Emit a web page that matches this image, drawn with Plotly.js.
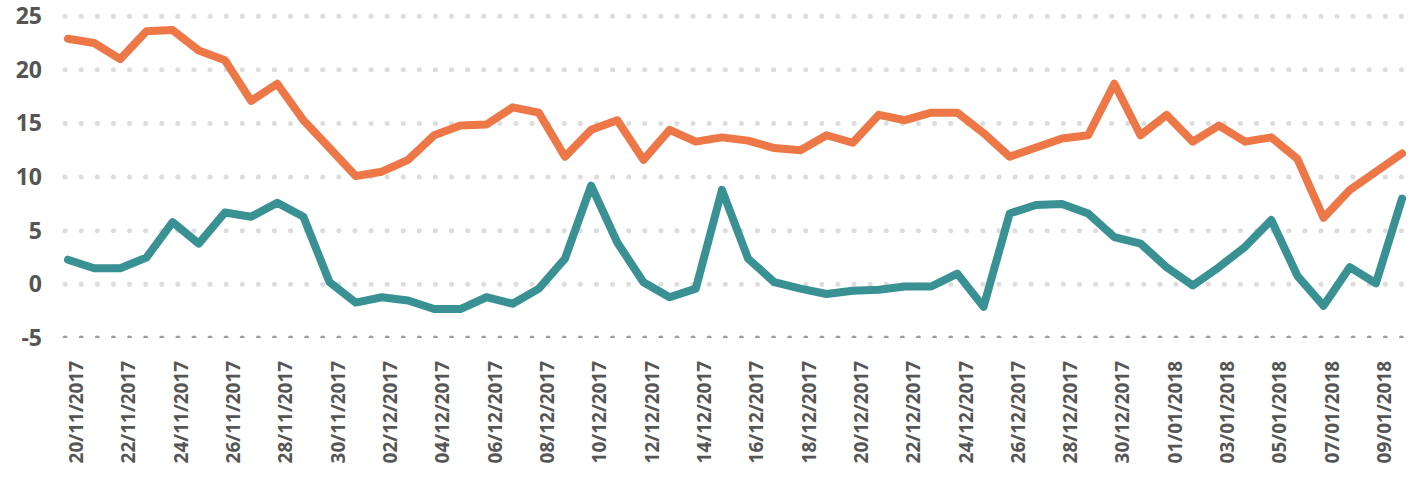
<!DOCTYPE html>
<html>
<head>
<meta charset="utf-8">
<script src="https://cdn.plot.ly/plotly-3.0.1.min.js"></script>
<style>
  html, body { margin: 0; padding: 0; background: #fff; }
  #chart { width: 1414px; height: 488px; }
  .gridlayer path, .shapelayer path { stroke-linecap: round !important; stroke-dashoffset: 14px !important; shape-rendering: auto !important; }
  .scatterlayer path.js-line { stroke-linecap: round !important; stroke-linejoin: round !important; }
</style>
</head>
<body>
<div id="chart"></div>
<script>
// Dates (daily, 20/11/2017 .. 10/01/2018)
const dates = [
  "20/11/2017","21/11/2017","22/11/2017","23/11/2017","24/11/2017","25/11/2017","26/11/2017","27/11/2017","28/11/2017","29/11/2017",
  "30/11/2017","01/12/2017","02/12/2017","03/12/2017","04/12/2017","05/12/2017","06/12/2017","07/12/2017","08/12/2017","09/12/2017",
  "10/12/2017","11/12/2017","12/12/2017","13/12/2017","14/12/2017","15/12/2017","16/12/2017","17/12/2017","18/12/2017","19/12/2017",
  "20/12/2017","21/12/2017","22/12/2017","23/12/2017","24/12/2017","25/12/2017","26/12/2017","27/12/2017","28/12/2017","29/12/2017",
  "30/12/2017","31/12/2017","01/01/2018","02/01/2018","03/01/2018","04/01/2018","05/01/2018","06/01/2018","07/01/2018","08/01/2018",
  "09/01/2018","10/01/2018"
];
const orangeValues = [
  22.9, 22.5, 21.0, 23.6, 23.7, 21.8, 20.9, 17.1, 18.7, 15.3,
  12.7, 10.1, 10.5, 11.6, 13.9, 14.8, 14.9, 16.5, 16.0, 11.9,
  14.4, 15.3, 11.6, 14.4, 13.3, 13.7, 13.4, 12.7, 12.5, 13.9,
  13.2, 15.8, 15.3, 16.0, 16.0, 14.1, 11.9, 12.7, 13.6, 13.9,
  18.7, 13.9, 15.8, 13.3, 14.8, 13.3, 13.7, 11.7, 6.2, 8.8,
  10.5, 12.2
];
const tealValues = [
  2.3, 1.5, 1.5, 2.5, 5.8, 3.8, 6.7, 6.3, 7.6, 6.3,
  0.2, -1.7, -1.2, -1.5, -2.3, -2.3, -1.2, -1.8, -0.4, 2.4,
  9.2, 3.9, 0.2, -1.2, -0.4, 8.8, 2.4, 0.2, -0.4, -0.9,
  -0.6, -0.5, -0.2, -0.2, 1.0, -2.1, 6.6, 7.4, 7.5, 6.6,
  4.4, 3.8, 1.6, -0.1, 1.6, 3.5, 6.0, 0.8, -2.0, 1.6,
  0.1, 8.0
];
const tickLabels = dates.filter((d, i) => i % 2 === 0);
const yTicks = [-5, 0, 5, 10, 15, 20, 25];

const ORANGE = "#ED7746";
const TEAL = "#3A9194";

const traces = [
  { x: dates, y: orangeValues, type: "scatter", mode: "lines",
    line: { color: ORANGE, width: 8, shape: "linear" }, hoverinfo: "x+y", showlegend: false },
  { x: dates, y: tealValues, type: "scatter", mode: "lines",
    line: { color: TEAL, width: 8, shape: "linear" }, hoverinfo: "x+y", showlegend: false }
];

const layout = {
  width: 1414, height: 488,
  margin: { l: 63, r: 2, t: 14, b: 150, pad: 0 },
  paper_bgcolor: "#ffffff", plot_bgcolor: "#ffffff",
  showlegend: false,
  font: { family: "'Open Sans', sans-serif", color: "#555555" },
  xaxis: {
    type: "category",
    range: [-0.19, 51.38],
    tickmode: "array",
    tickvals: tickLabels,
    ticktext: tickLabels,
    tickangle: -90,
    tickfont: { size: 19, color: "#555555", weight: 700 },
    showgrid: false, zeroline: false, showline: false, ticks: "",
    ticklabelstandoff: 18,
    ticklabelshift: 9,
    ticklabeloverflow: "allow"
  },
  yaxis: {
    range: [-5, 25.2],
    tickmode: "array",
    tickvals: yTicks,
    ticktext: yTicks.map(String),
    tickfont: { size: 23, color: "#555555", weight: 700 },
    showgrid: true, gridcolor: "#dddddd", gridwidth: 5, griddash: "0.1px,16px",
    zeroline: false, showline: false, ticks: "",
    ticklabelstandoff: 20,
    ticklabeloverflow: "allow"
  },
  shapes: [
    { type: "line", xref: "paper", x0: 0, x1: 1, yref: "y", y0: -5, y1: -5,
      line: { color: "#9d9d9d", width: 5, dash: "0.1px,16px" }, layer: "below" }
  ]
};

Plotly.newPlot("chart", traces, layout, { displayModeBar: false, staticPlot: true });
</script>
</body>
</html>
